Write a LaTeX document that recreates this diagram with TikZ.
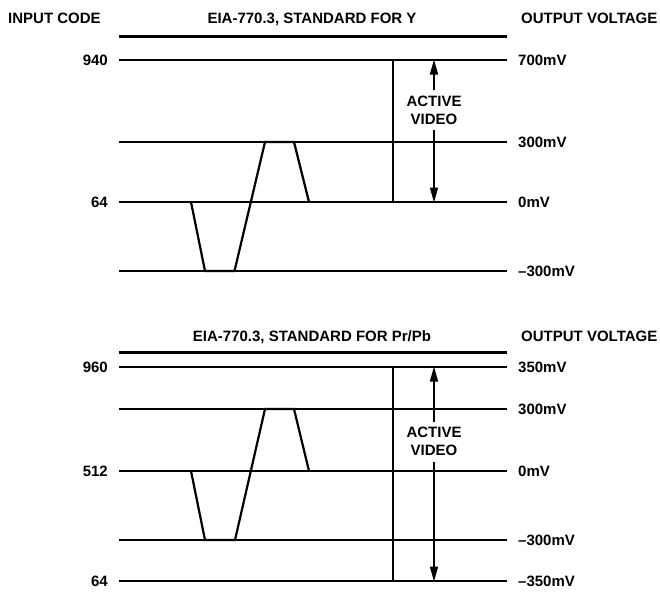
\documentclass[tikz,border=0pt]{standalone}
\usepackage{fontspec}
\setmainfont{Liberation Sans}
\usetikzlibrary{arrows.meta}
\tikzset{
  lbl/.style={font=\fontsize{15}{18}\selectfont\bfseries, inner sep=0pt, text height=10.7pt, text depth=0pt},
  lvl/.style={line width=2.3pt},
  hdr/.style={line width=3pt},
  wave/.style={line width=2.2pt, line join=miter},
  vbar/.style={line width=2pt},
  av/.style={font=\fontsize{15}{18}\selectfont\bfseries, align=center, inner xsep=2pt, inner ysep=5.5pt},
  dim/.style={line width=1.6pt, -{Triangle[length=15pt,width=8pt]}},
}
\begin{document}
\begin{tikzpicture}[x=1pt,y=-1pt]
\useasboundingbox (0,0) rectangle (660,603);
% ---------- top panel ----------
\node[lbl,anchor=west] (ic) at (8,18) {INPUT CODE};
\node[lbl] (t1) at (312,18) {EIA-770.3, STANDARD FOR Y};
\node[lbl,anchor=west] (ov1) at (521,18) {OUTPUT VOLTAGE};
\coordinate (h1l) at (119,36); \coordinate (h1r) at (507,36);
\draw[hdr] (h1l) -- (h1r);
% levels
\node[lbl,anchor=east] (c940) at (108,60) {940};
\node[lbl,anchor=east] (c64a) at (108,202) {64};
\node[lbl,anchor=west] (v700) at (518,60) {700mV};
\node[lbl,anchor=west] (v300a) at (518,142) {300mV};
\node[lbl,anchor=west] (v0a) at (518,202) {0mV};
\node[lbl,anchor=west] (vm300a) at (518,271) {--300mV};
\coordinate (a1l) at (119,60);  \coordinate (a1r) at (507,60);
\coordinate (a2l) at (119,142); \coordinate (a2r) at (507,142);
\coordinate (a3l) at (119,202); \coordinate (a3r) at (507,202);
\coordinate (a4l) at (119,271); \coordinate (a4r) at (507,271);
\draw[lvl] (a1l) -- (a1r);
\draw[lvl] (a2l) -- (a2r);
\draw[lvl] (a3l) -- (a3r);
\draw[lvl] (a4l) -- (a4r);
% waveform
\coordinate (w1) at (191,202); \coordinate (w2) at (205,271);
\coordinate (w3) at (234.5,271); \coordinate (w4) at (265,142);
\coordinate (w5) at (294,142); \coordinate (w6) at (309,202);
\draw[wave] (w1) -- (w2) -- (w3) -- (w4) -- (w5) -- (w6);
% vertical bar
\coordinate (b1t) at (393,60); \coordinate (b1b) at (393,202);
\draw[vbar] (b1t) -- (b1b);
% active video
\node[av] (av1) at (434,110.2) {ACTIVE\\VIDEO};
\coordinate (av1t) at (434,59.5); \coordinate (av1b) at (434,202.5);
\draw[dim] (av1.north) -- (av1t);
\draw[dim] (av1.south) -- (av1b);
% ---------- bottom panel ----------
\node[lbl] (t2) at (312,336) {EIA-770.3, STANDARD FOR Pr/Pb};
\node[lbl,anchor=west] (ov2) at (521,336) {OUTPUT VOLTAGE};
\coordinate (h2l) at (119,352); \coordinate (h2r) at (507,352);
\draw[hdr] (h2l) -- (h2r);
\node[lbl,anchor=east] (c960) at (108,367) {960};
\node[lbl,anchor=east] (c512) at (108,471) {512};
\node[lbl,anchor=east] (c64b) at (108,581) {64};
\node[lbl,anchor=west] (v350) at (518,367) {350mV};
\node[lbl,anchor=west] (v300b) at (518,409) {300mV};
\node[lbl,anchor=west] (v0b) at (518,471) {0mV};
\node[lbl,anchor=west] (vm300b) at (518,540) {--300mV};
\node[lbl,anchor=west] (vm350) at (518,581) {--350mV};
\coordinate (b1l) at (119,367); \coordinate (b1r) at (507,367);
\coordinate (b2l) at (119,409); \coordinate (b2r) at (507,409);
\coordinate (b3l) at (119,471); \coordinate (b3r) at (507,471);
\coordinate (b4l) at (119,540); \coordinate (b4r) at (507,540);
\coordinate (b5l) at (119,581); \coordinate (b5r) at (507,581);
\draw[lvl] (b1l) -- (b1r);
\draw[lvl] (b2l) -- (b2r);
\draw[lvl] (b3l) -- (b3r);
\draw[lvl] (b4l) -- (b4r);
\draw[lvl] (b5l) -- (b5r);
\coordinate (u1) at (191,471); \coordinate (u2) at (205,540);
\coordinate (u3) at (235,540); \coordinate (u4) at (265,409);
\coordinate (u5) at (294,409); \coordinate (u6) at (309,471);
\draw[wave] (u1) -- (u2) -- (u3) -- (u4) -- (u5) -- (u6);
\coordinate (b2t) at (393,367); \coordinate (b2b) at (393,581);
\draw[vbar] (b2t) -- (b2b);
\node[av] (av2) at (434,441.8) {ACTIVE\\VIDEO};
\coordinate (av2t) at (434,366.5); \coordinate (av2b) at (434,581.5);
\draw[dim] (av2.north) -- (av2t);
\draw[dim] (av2.south) -- (av2b);
\end{tikzpicture}
\end{document}
